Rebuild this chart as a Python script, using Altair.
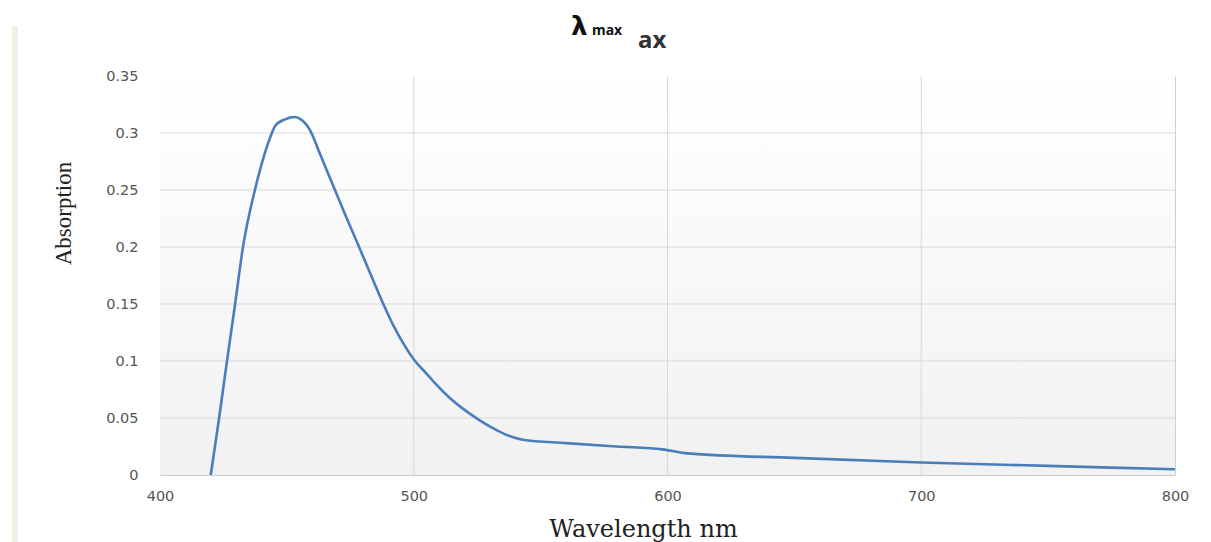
import altair as alt
import pandas as pd

wavelength = [420, 423.3, 426.4, 429.6, 432.7, 437.4, 441, 444.1, 445.3, 449.3, 453.2,
              455.5, 459, 463, 468, 472.5, 477.5, 483, 488, 492, 496, 500.5, 505, 509,
              514, 519.5, 526, 533, 538, 543, 560, 580, 598, 608, 650, 700, 750, 800]
absorption = [0.0, 0.05, 0.10, 0.15, 0.20, 0.25, 0.28, 0.30, 0.306, 0.312, 0.314,
              0.312, 0.303, 0.282, 0.255, 0.231, 0.205, 0.176, 0.15, 0.131, 0.115, 0.100, 0.089, 0.079,
              0.068, 0.058, 0.048, 0.039, 0.034, 0.031, 0.028, 0.025, 0.0225, 0.019, 0.015, 0.011, 0.008, 0.005]

x_ticks = [400, 500, 600, 700, 800]
y_ticks = [0, 0.05, 0.1, 0.15, 0.2, 0.25, 0.3, 0.35]

W, H = 1015, 399

df = pd.DataFrame({"Wavelength": wavelength, "Absorption": absorption})
one = alt.Data(values=[{}])

xscale = alt.Scale(domain=[400, 800], nice=False)
yscale = alt.Scale(domain=[0, 0.35], nice=False)

xaxis = alt.Axis(values=x_ticks, title="Wavelength nm", grid=False,
                 domain=False, ticks=False, labelFlush=False,
                 labelFont="DejaVu Sans", labelFontSize=14.5, labelColor="#555555",
                 labelPadding=14,
                 titleFont="DejaVu Serif", titleFontSize=24, titleFontWeight="normal",
                 titleColor="#222222", titleX=483, titleY=42, titleAlign="center",
                 titleBaseline="top")
yaxis = alt.Axis(values=y_ticks, format="~g", title="Absorption", grid=False,
                 domain=False, ticks=False,
                 labelFont="DejaVu Sans", labelFontSize=14.5, labelColor="#555555",
                 labelPadding=22,
                 titleFont="Liberation Serif", titleFontSize=23, titleFontWeight="normal",
                 titleColor="#222222", titleX=-97, titleY=137, titleAngle=-90,
                 titleAlign="center", titleBaseline="middle")

bg = alt.Chart(one).mark_rect(
    color=alt.Gradient(gradient="linear",
                       stops=[alt.GradientStop(color="#ffffff", offset=0),
                              alt.GradientStop(color="#f1f1f1", offset=1)],
                       x1=0, x2=0, y1=0, y2=1),
).encode(x=alt.value(0), x2=alt.value(W), y=alt.value(0), y2=alt.value(H))

strip = alt.Chart(one).mark_rule(color="#f1f0e2", strokeWidth=6).encode(
    x=alt.value(-145), y=alt.value(-50), y2=alt.value(H + 70))

vgrid = alt.Chart(pd.DataFrame({"Wavelength": x_ticks[1:-1]})).mark_rule(
    color="#d9d9d9", strokeWidth=1).encode(
    x=alt.X("Wavelength:Q", scale=xscale, axis=xaxis))
hgrid = alt.Chart(pd.DataFrame({"Absorption": y_ticks[1:-1]})).mark_rule(
    color="#d9d9d9", strokeWidth=1).encode(
    y=alt.Y("Absorption:Q", scale=yscale, axis=yaxis))

line = alt.Chart(df).mark_line(
    color="#4a7ebb", strokeWidth=2.6, interpolate="monotone"
).encode(
    x=alt.X("Wavelength:Q", scale=xscale, axis=xaxis),
    y=alt.Y("Absorption:Q", scale=yscale, axis=yaxis),
)

lam = alt.Chart(one).mark_text(text="λ", font="DejaVu Sans", fontSize=26, fontWeight="bold",
                               color="#111111", align="left", baseline="alphabetic").encode(
    x=alt.value(411), y=alt.value(-41))
mx = alt.Chart(one).mark_text(text="max", font="Noto Sans", fontSize=14, fontWeight="bold",
                              color="#111111", align="left", baseline="alphabetic").encode(
    x=alt.value(432), y=alt.value(-41))
ax = alt.Chart(one).mark_text(text="ax", font="Noto Sans", fontSize=24, fontWeight="bold",
                              color="#333333", align="left", baseline="alphabetic").encode(
    x=alt.value(478), y=alt.value(-28))

chart = alt.layer(bg, strip, vgrid, hgrid, line, lam, mx, ax).properties(
    width=W, height=H,
    autosize=alt.AutoSizeParams(type="none"),
    padding={"left": 152, "top": 68, "right": 20, "bottom": 67},
).configure_view(stroke="#d0d0d0", strokeWidth=1)

chart.save("out.html", embed_options={"renderer": "svg", "actions": False})
